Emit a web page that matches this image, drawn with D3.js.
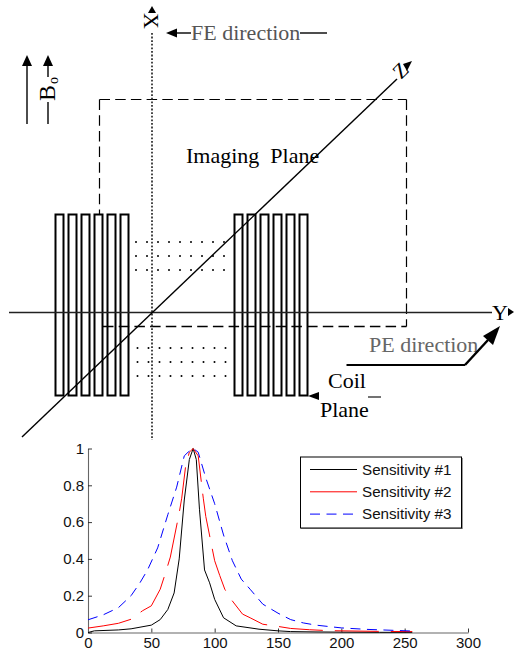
<!DOCTYPE html>
<html><head><meta charset="utf-8">
<script src="https://cdn.jsdelivr.net/npm/d3@7"></script>
<style>html,body{margin:0;padding:0;background:#fff}svg{display:block}
.s{font-family:"Liberation Serif",serif}.a{font-family:"Liberation Sans",sans-serif}</style>
</head><body><div id="c"></div>
<script>
const seriesNames=["Sensitivity #1","Sensitivity #2","Sensitivity #3"];
const xTicks=[0,50,100,150,200,250,300];
const yTicks=[0,0.2,0.4,0.6,0.8,1];
const yTickLabels=["0","0.2","0.4","0.6","0.8","1"];
const s1x=[0,5,24,34,50,57,63,68,72,76,80,83,85.5,88,92,96,100,107,117,135,150,160,180,200,230,256];
const s1y=[0,0.009,0.014,0.02,0.04,0.07,0.125,0.215,0.4,0.72,0.94,1,0.94,0.67,0.34,0.27,0.18,0.08,0.036,0.018,0.009,0.005,0.003,0.002,0.001,0.001];
const s2x=[0,12,24,34,43,50,57,61,65,72,74,77,80,83,87,91,93,100,104,108,113,122,128,138,150,160,175,190,210,230,256];
const s2y=[0.024,0.036,0.05,0.072,0.118,0.145,0.235,0.32,0.41,0.65,0.73,0.9,0.98,1,0.96,0.73,0.63,0.39,0.31,0.235,0.18,0.1,0.08,0.045,0.033,0.022,0.015,0.01,0.008,0.006,0.005];
const s3x=[0,12,24,34,41,47,55,63,70,76,79,83,87,93,100,107,114,121,128,138,150,160,170,180,200,220,240,256];
const s3y=[0.069,0.096,0.135,0.2,0.27,0.34,0.46,0.64,0.79,0.96,0.98,1,0.98,0.84,0.7,0.53,0.39,0.29,0.235,0.154,0.105,0.07,0.052,0.04,0.025,0.017,0.012,0.008];
const seriesColors=["#000","#f00","#00f"];
const seriesDash=[null,"44,12","10,6.5"];
const legendDash=[null,null,"10,6.5"];
const coilLeftIdx=[0,1,2,3,4,5];
const dotCols=[0,1,2,3,4,5,6,7,8];
const dotRows=[0,1,2];

const W=514,H=656;
const svg=d3.select("#c").append("svg").attr("width",W).attr("height",H);
const line=(x1,y1,x2,y2,w=1.3,col="#000",dash=null)=>svg.append("line").attr("x1",x1).attr("y1",y1).attr("x2",x2).attr("y2",y2).attr("stroke",col).attr("stroke-width",w).attr("stroke-dasharray",dash);
const tri=(pts,col="#000")=>svg.append("polygon").attr("points",pts.map(p=>p.join(",")).join(" ")).attr("fill",col);
const text=(t,x,y,size,col="#000",cls="s",extra="")=>svg.append("text").attr("class",cls).attr("x",x).attr("y",y).attr("font-size",size).attr("fill",col).attr("transform",extra||null).style("white-space","pre").text(t);

// diagram: dashed imaging plane
const dash="10.5,5.2";
line(99.5,99.5,406.5,99.5,1.2,"#000",dash);
line(406.5,99.5,406.5,326.5,1.2,"#000",dash);
line(99.5,99.5,99.5,214,1.2,"#000",dash);
line(103,326.5,406.5,326.5,1.4,"#000",dash);

// coils
const coilW=8,coilP=13,coilT=214.5,coilB=395.5;
[55.5,234.5].forEach(x0=>{
  svg.append("g").selectAll("rect").data(coilLeftIdx).join("rect")
    .attr("x",i=>x0+i*coilP).attr("y",coilT).attr("width",coilW).attr("height",coilB-coilT)
    .attr("fill","none").attr("stroke","#000").attr("stroke-width",2);
});

// dots
[[136,242],[137.5,348]].forEach(([x0,y0])=>{
  dotRows.forEach(r=>dotCols.forEach(c=>{
    svg.append("circle").attr("cx",x0+c*11).attr("cy",y0+r*14).attr("r",1).attr("fill","#000");
  }));
});

// axes lines
line(152,33,152,440,1.8,"#333","1.8,1.8");
line(9,312.5,492,312.5,1.3,"#222");
line(22,437,397,79,1.4,"#000");

// X
text("X",0,0,22,"#000","s","translate(144,13) rotate(90)");
tri([[152,6],[148,13],[156,13]]);
// FE
tri([[166,33],[177,28.5],[177,37.5]]);
line(177,33,191,33,1.4);
text("FE direction",191,40,22,"#555");
line(300,33,327,33,1.4);
// Bo
line(27,124,27,66,1.4); tri([[27,55],[22,66],[32,66]]);
line(48,124,48,102,1.4); line(48,77,48,65,1.4); tri([[48,55],[43,66],[53,66]]);
text("B",55,101,24,"#000","s","rotate(-90 55 101)");
text("o",58,84,14,"#000","s","rotate(-90 58 84)");
// Imaging plane
text("Imaging  Plane",186,163,22);
// Y
text("Y",492,320,22);
tri([[514,312],[508,308],[508,316]]);
// Z
text("Z",0,0,21,"#000","s","translate(401,80) rotate(-45)");
tri([[412,61],[403,64],[407,71]]);
// PE
text("PE direction",369,352,22,"#666");
line(346.5,365,465,365,2);
line(465,365,488,340,2.4);
tri([[500,326],[483,336],[493,345]]);
// Coil
text("Coil",328,388,22);
line(368,397,381,397,1.1);
text("Plane",320,417,22);
tri([[308,396],[319,392],[319,400]]);

// plot
const x=d3.scaleLinear().domain([0,300]).range([88,468]);
const y=d3.scaleLinear().domain([0,1]).range([632.5,448.5]);
const gx=svg.append("g").attr("transform","translate(0,632.5)").call(d3.axisBottom(x).tickValues(xTicks).tickSize(-4).tickSizeOuter(0).tickPadding(5));
const gy=svg.append("g").attr("transform","translate(88,0)").call(d3.axisLeft(y).tickValues(yTicks).tickFormat((d,i)=>yTickLabels[i]).tickSize(-4).tickSizeOuter(0).tickPadding(4));
[gx,gy].forEach(g=>{g.selectAll("text").attr("class","a").attr("font-family",'"Liberation Sans"').attr("font-size",15).attr("fill","#111");
  g.selectAll("path").attr("stroke","#666").attr("stroke-width",1.1);g.selectAll("line").attr("stroke","#222").attr("stroke-width",.9);});
const gen=d3.line().x(d=>x(d[0])).y(d=>y(d[1]));
[[s1x,s1y],[s2x,s2y],[s3x,s3y]].forEach(([xs,ys],i)=>{
  svg.append("path").datum(xs.map((v,j)=>[v,ys[j]])).attr("d",gen).attr("fill","none")
    .attr("stroke",seriesColors[i]).attr("stroke-width",1).attr("stroke-dasharray",seriesDash[i]);
});

// legend
svg.append("rect").attr("x",301).attr("y",458).attr("width",162).attr("height",71).attr("fill","#999");
svg.append("rect").attr("x",300.5).attr("y",457).attr("width",161).attr("height",71).attr("fill","#fff").attr("stroke","#000").attr("stroke-width",1);
seriesNames.forEach((n,i)=>{
  const ly=469.5+i*22.3;
  line(310,ly,357,ly,1,seriesColors[i],legendDash[i]);
  text(n,362,ly+5,15.2,"#111","a");
});
</script></body></html>
